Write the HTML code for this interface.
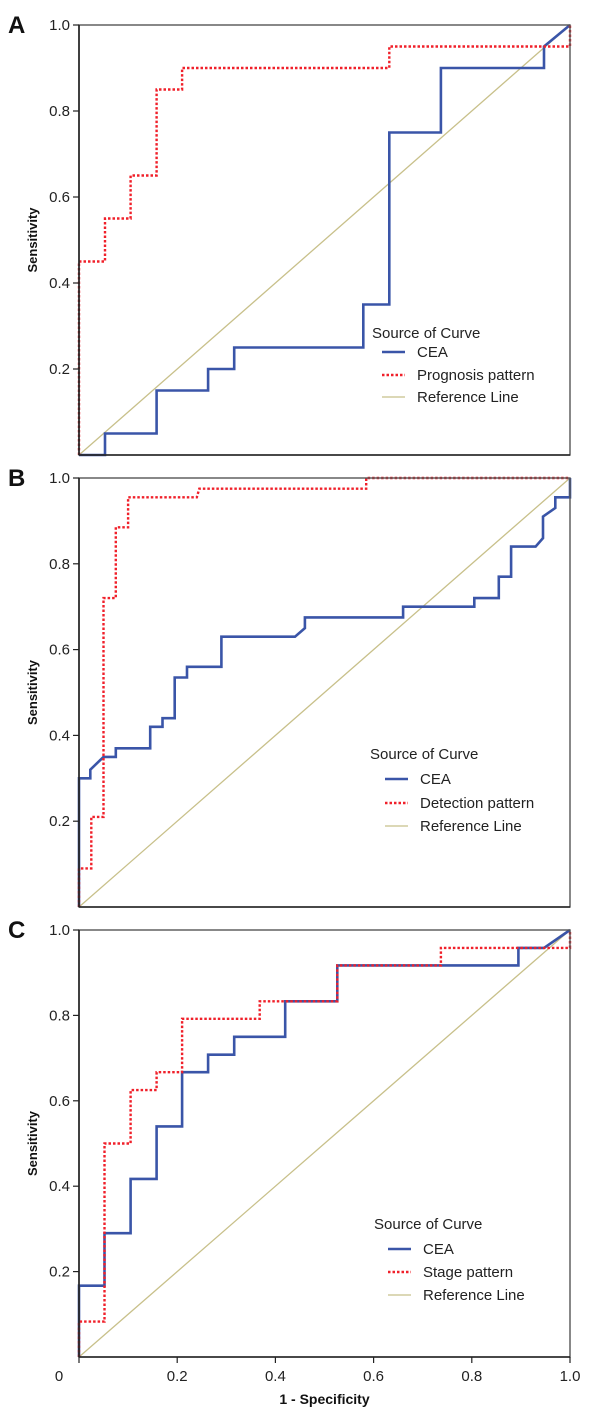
<!DOCTYPE html>
<html><head><meta charset="utf-8">
<style>
body{margin:0;background:#fff;}
svg{display:block;font-family:"Liberation Sans",Arial,sans-serif;}
</style></head>
<body>
<svg id="chart" width="600" height="1412" viewBox="0 0 600 1412"></svg>
<script>
// Panel A data
const aCeaX = [0,0.053,0.053,0.158,0.158,0.263,0.263,0.316,0.316,0.579,0.579,0.632,0.632,0.737,0.737,0.947,0.947,1];
const aCeaY = [0,0,0.05,0.05,0.15,0.15,0.2,0.2,0.25,0.25,0.35,0.35,0.75,0.75,0.9,0.9,0.95,1];
const aPatX = [0,0,0.053,0.053,0.105,0.105,0.158,0.158,0.21,0.21,0.632,0.632,1,1];
const aPatY = [0,0.45,0.45,0.55,0.55,0.65,0.65,0.85,0.85,0.9,0.9,0.95,0.95,1];
// Panel B data
const bCeaX = [0,0,0.023,0.023,0.05,0.075,0.075,0.145,0.145,0.17,0.17,0.195,0.195,0.22,0.22,0.29,0.29,0.44,0.46,0.46,0.66,0.66,0.805,0.805,0.855,0.855,0.88,0.88,0.93,0.945,0.945,0.97,0.97,1,1];
const bCeaY = [0,0.30,0.30,0.32,0.35,0.35,0.37,0.37,0.42,0.42,0.44,0.44,0.535,0.535,0.56,0.56,0.63,0.63,0.65,0.675,0.675,0.70,0.70,0.72,0.72,0.77,0.77,0.84,0.84,0.86,0.91,0.93,0.955,0.955,1];
const bPatX = [0,0,0.025,0.025,0.05,0.05,0.075,0.075,0.1,0.1,0.24,0.245,0.585,0.585,1];
const bPatY = [0,0.09,0.09,0.21,0.21,0.72,0.72,0.885,0.885,0.955,0.955,0.975,0.975,1,1];
// Panel C data
const cCeaX = [0,0,0.052,0.052,0.105,0.105,0.158,0.158,0.21,0.21,0.263,0.263,0.316,0.316,0.42,0.42,0.526,0.526,0.895,0.895,0.947,1];
const cCeaY = [0,0.167,0.167,0.29,0.29,0.417,0.417,0.54,0.54,0.667,0.667,0.708,0.708,0.75,0.75,0.833,0.833,0.917,0.917,0.958,0.958,1];
const cPatX = [0,0,0.052,0.052,0.105,0.105,0.158,0.158,0.21,0.21,0.368,0.368,0.526,0.526,0.737,0.737,1,1];
const cPatY = [0,0.083,0.083,0.5,0.5,0.625,0.625,0.667,0.667,0.792,0.792,0.833,0.833,0.917,0.917,0.958,0.958,1];
const yTicks = ["0.2","0.4","0.6","0.8","1.0"];
const xTicks = ["0","0.2","0.4","0.6","0.8","1.0"];

const NS="http://www.w3.org/2000/svg";
const svg=document.getElementById('chart');
function mk(tag,attrs,parent){const e=document.createElementNS(NS,tag);for(const k in attrs)e.setAttribute(k,attrs[k]);(parent||svg).appendChild(e);return e;}

const panels=[
 {letter:"A",top:25,bot:455,ceaX:aCeaX,ceaY:aCeaY,patX:aPatX,patY:aPatY,pat:"Prognosis pattern",leg:{x:372,ty:333,rows:[352,375,397],lx:382,tx:417}},
 {letter:"B",top:478,bot:907,ceaX:bCeaX,ceaY:bCeaY,patX:bPatX,patY:bPatY,pat:"Detection pattern",leg:{x:370,ty:754,rows:[779,803,826],lx:385,tx:420}},
 {letter:"C",top:930,bot:1357,ceaX:cCeaX,ceaY:cCeaY,patX:cPatX,patY:cPatY,pat:"Stage pattern",leg:{x:374,ty:1224,rows:[1249,1272,1295],lx:388,tx:423}}
];
const L=79,R=570;
panels.forEach((p,pi)=>{
  const g=mk('g',{});
  
  
  const sx=v=>L+v*(R-L), sy=v=>p.bot-v*(p.bot-p.top);
  const t=mk('text',{x:8,y:p.top+8,'font-size':24,'font-weight':'bold',fill:'#111'},g);t.textContent=p.letter;
  
  
  // reference line
  const ref=mk('line',{x1:sx(0),y1:sy(0),x2:sx(1),y2:sy(1),stroke:'#c8c08a','stroke-width':1.3},g);
  
  
  const pts=(xs,ys)=>xs.map((x,i)=>sx(x).toFixed(1)+','+sy(ys[i]).toFixed(1)).join(' ');
  const cea=mk('polyline',{points:pts(p.ceaX,p.ceaY),fill:'none',stroke:'#3a55a8','stroke-width':2.6},g);
  
  
  const pat=mk('polyline',{points:pts(p.patX,p.patY),fill:'none',stroke:'#f0202a','stroke-width':2.4,'stroke-dasharray':'2.5,2'},g);
  
  
  const fr=mk('rect',{x:L,y:p.top,width:R-L,height:p.bot-p.top,fill:'none',stroke:'#555','stroke-width':1.4},g);
  
  
  mk('line',{x1:L,y1:p.top,x2:L,y2:p.bot,stroke:'#222','stroke-width':1.6},g);
  mk('line',{x1:L,y1:p.bot,x2:R,y2:p.bot,stroke:'#222','stroke-width':1.6},g);
  yTicks.forEach((lab,i)=>{
    const v=(i+1)*0.2,y=sy(v);
    mk('line',{x1:L-6,y1:y,x2:L,y2:y,stroke:'#222','stroke-width':1.2},g);
    const tt=mk('text',{x:L-9,y:y+5,'font-size':15,'text-anchor':'end',fill:'#222'},g);tt.textContent=lab;
    
    
  });
  const yl=mk('text',{x:0,y:0,'font-size':13,'font-weight':'bold','text-anchor':'middle',fill:'#111',transform:`translate(37,${(p.top+p.bot)/2}) rotate(-90)`},g);yl.textContent="Sensitivity";
  
  
  if(pi===2){
    xTicks.forEach((lab,i)=>{
      const x=sx(i*0.2);
      mk('line',{x1:x,y1:p.bot,x2:x,y2:p.bot+6,stroke:'#222','stroke-width':1.2},g);
      const tt=mk('text',{x:i===0?x-20:x,y:p.bot+24,'font-size':15,'text-anchor':'middle',fill:'#222'},g);tt.textContent=lab;
      
      
    });
    const xl=mk('text',{x:(L+R)/2,y:1404,'font-size':14,'font-weight':'bold','text-anchor':'middle',fill:'#111'},g);xl.textContent="1 - Specificity";
    
    
  }
  // legend
  const lg=mk('g',{},g);
  
  
  const lt=mk('text',{x:p.leg.x,y:p.leg.ty+5,'font-size':15,fill:'#222'},lg);lt.textContent="Source of Curve";
  const items=[["CEA",'#3a55a8',2.6,null],[p.pat,'#f0202a',2.4,'2.5,2'],["Reference Line",'#c8c08a',1.3,null]];
  items.forEach((it,i)=>{
    const y=p.leg.rows[i];
    const e=mk('g',{},lg);
    
    
    const a={x1:p.leg.lx,y1:y,x2:p.leg.lx+23,y2:y,stroke:it[1],'stroke-width':it[2]};
    if(it[3])a['stroke-dasharray']=it[3];
    mk('line',a,e);
    const tx=mk('text',{x:p.leg.tx,y:y+5,'font-size':15,fill:'#222'},e);tx.textContent=it[0];
  });
});
</script>
</body></html>
